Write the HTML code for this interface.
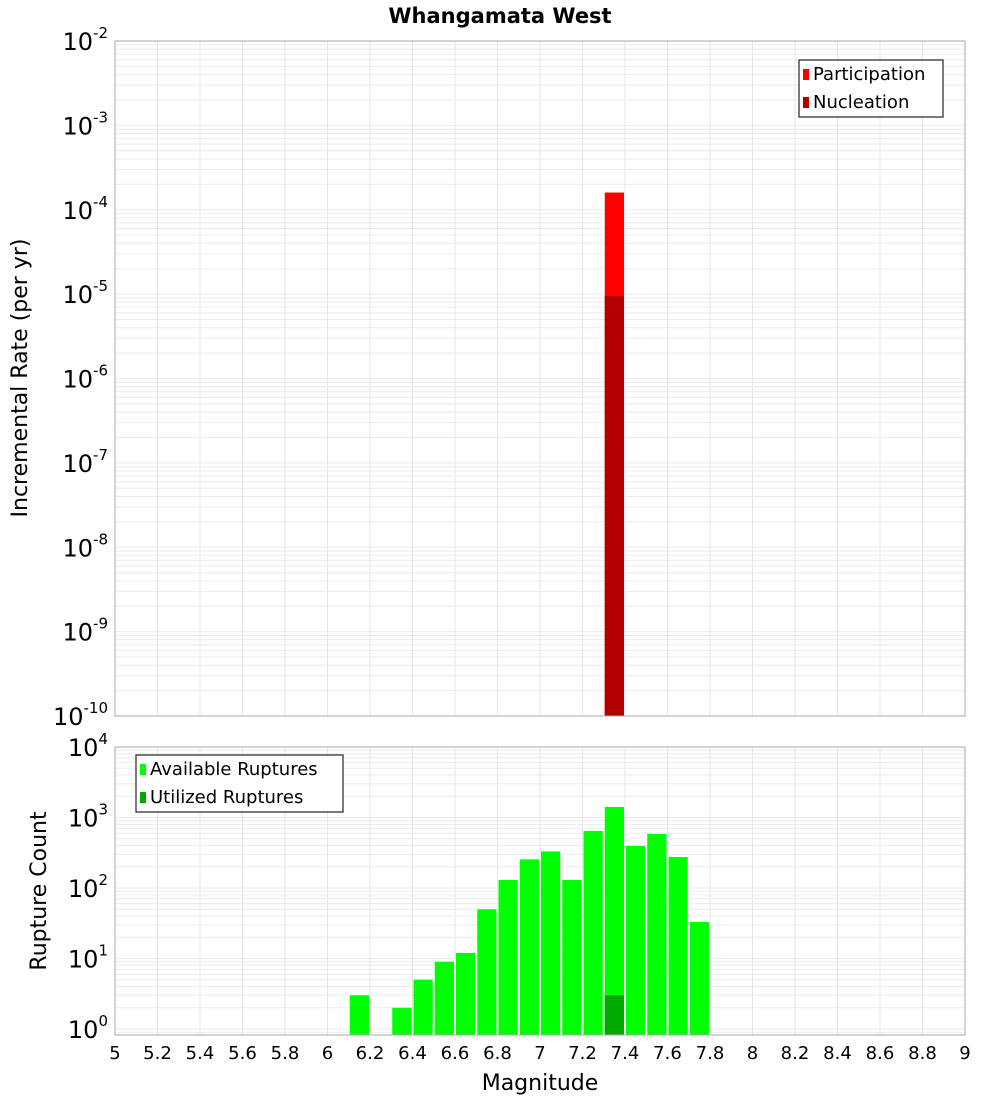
<!DOCTYPE html>
<html><head><meta charset="utf-8"><style>
body{margin:0;background:#fff;font-family:"Liberation Sans","DejaVu Sans",sans-serif}
svg text{font-family:"DejaVu Sans","Liberation Sans",sans-serif}
</style></head><body>
<svg id="c" width="1000" height="1100" xmlns="http://www.w3.org/2000/svg">
<text x="500" y="23" text-anchor="middle" font-size="21" font-weight="bold">Whangamata West</text>
<text transform="translate(27,378) rotate(-90)" text-anchor="middle" font-size="22">Incremental Rate (per yr)</text>
<text transform="translate(46,891) rotate(-90)" text-anchor="middle" font-size="22">Rupture Count</text>
<text x="540" y="1090" text-anchor="middle" font-size="22">Magnitude</text>
</svg>
<script>
// data
const xTicks=[5,5.2,5.4,5.6,5.8,6,6.2,6.4,6.6,6.8,7,7.2,7.4,7.6,7.8,8,8.2,8.4,8.6,8.8,9];
const rateMags=[7.35];
const participation=[1.6e-4];
const nucleation=[9.5e-6];
const countMags=[6.15,6.35,6.45,6.55,6.65,6.75,6.85,6.95,7.05,7.15,7.25,7.35,7.45,7.55,7.65,7.75];
const available=[3,2,5,9,12,50,130,255,330,130,645,1410,395,585,275,33];
const utilizedMags=[7.35];
const utilized=[3];
const topDecades=[-10,-9,-8,-7,-6,-5,-4,-3,-2];
const botDecades=[0,1,2,3,4];

const NS='http://www.w3.org/2000/svg';
const svg=document.getElementById('c');
function el(t,a,parent){const e=document.createElementNS(NS,t);for(const k in a)e.setAttribute(k,a[k]);(parent||svg).appendChild(e);return e;}
const X0=115,X1=965;
const xs=m=>X0+(m-5)/4*(X1-X0);
const T0=41,T1=716;
const yTop=v=>T0+(-2-Math.log10(v))*(T1-T0)/8;
const B0=747,B1=1035,BZ=1029,BD=70.5;
const yBot=v=>BZ-Math.log10(v)*BD;

function grid(y0,y1,decs,yf,nm){
  const g=el('g',{});
  
  
  for(let i=0;i<decs.length;i++){
    for(let k=1;k<10;k++){
      const v=k*Math.pow(10,decs[i]);const y=yf(v);
      if(y<y0-0.5||y>y1+0.5)continue;
      el('line',{x1:X0,x2:X1,y1:y,y2:y,stroke:'#ebebeb','stroke-width':1},g);
    }
  }
  for(const t of xTicks){el('line',{x1:xs(t),x2:xs(t),y1:y0,y2:y1,stroke:'#e6e6e6','stroke-width':1},g);}
}
grid(T0,T1,topDecades,yTop,'top-grid');
grid(B0,B1,[-1].concat(botDecades),yBot,'bottom-grid');

const bw=(X1-X0)/40;
// top bars
for(let i=0;i<rateMags.length;i++){
  const x=xs(rateMags[i])-bw/2+1;
  const r=el('rect',{x:x,y:yTop(participation[i]),width:bw-2,height:T1-yTop(participation[i]),fill:'#ff0000'});
  
  
  const n=el('rect',{x:x,y:yTop(nucleation[i]),width:bw-2,height:T1-yTop(nucleation[i]),fill:'#b20000'});
  
  
}
// bottom bars
for(let i=0;i<countMags.length;i++){
  const x=xs(countMags[i])-bw/2+1;
  const r=el('rect',{x:x,y:yBot(available[i]),width:bw-2,height:B1-yBot(available[i]),fill:'#00ff00'});
  
  
}
for(let i=0;i<utilizedMags.length;i++){
  const x=xs(utilizedMags[i])-bw/2+1;
  const r=el('rect',{x:x,y:yBot(utilized[i]),width:bw-2,height:B1-yBot(utilized[i]),fill:'#00aa00'});
  
  
}
// frames
el('rect',{x:X0,y:T0,width:X1-X0,height:T1-T0,fill:'none',stroke:'#aaa'});
el('rect',{x:X0,y:B0,width:X1-X0,height:B1-B0,fill:'none',stroke:'#aaa'});
// y tick labels
function ylab(y,exp,nm){
  const t=el('text',{x:108,y:y+9,'text-anchor':'end','font-size':24});
  
  
  const a=document.createElementNS(NS,'tspan');a.textContent='10';t.appendChild(a);
  const b=document.createElementNS(NS,'tspan');b.setAttribute('dy','-12');b.setAttribute('font-size','15');b.textContent=String(exp);t.appendChild(b);
}
for(const d of topDecades)ylab(yTop(Math.pow(10,d)),d,'top-y-tick-label');
for(const d of botDecades)ylab(yBot(Math.pow(10,d)),d,'bottom-y-tick-label');
// x tick labels
for(const t of xTicks){
  const e=el('text',{x:xs(t),y:1059,'text-anchor':'middle','font-size':18});
  
  
  e.textContent=String(t);
}
// legends
function legend(x,y,w,items,nm){
  const g=el('g',{});
  
  
  el('rect',{x:x,y:y,width:w,height:57,fill:'#fff',stroke:'#333','stroke-width':1.3},g);
  items.forEach((it,i)=>{
    el('rect',{x:x+4,y:y+9+i*28,width:6,height:11,fill:it[1]},g);
    const t=el('text',{x:x+14,y:y+20+i*28,'font-size':18},g);t.textContent=it[0];
  });
}
legend(799,60,144,[['Participation','#ff0000'],['Nucleation','#b20000']],'top-legend');
legend(136,755,207,[['Available Ruptures','#00ff00'],['Utilized Ruptures','#00aa00']],'bottom-legend');
</script>
</body></html>
